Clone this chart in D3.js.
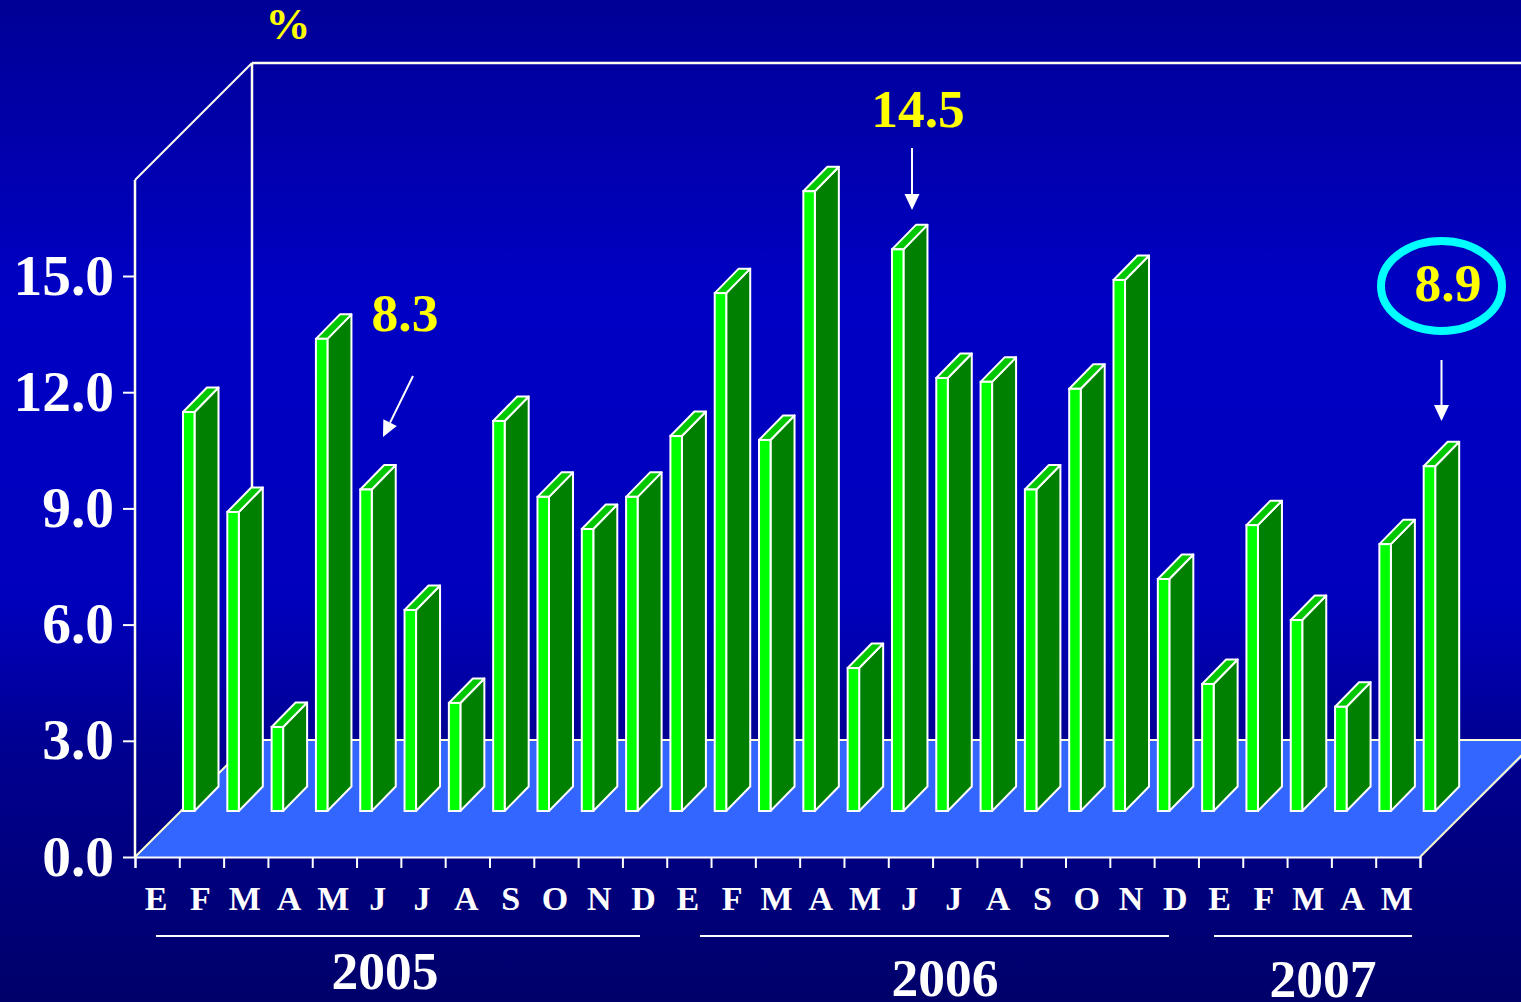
<!DOCTYPE html>
<html><head><meta charset="utf-8">
<script src="https://cdn.jsdelivr.net/npm/d3@7"></script>
<style>html,body{margin:0;padding:0;background:#000060;overflow:hidden}svg{display:block}
text{font-family:"Liberation Serif",serif;font-weight:bold}</style></head>
<body><svg id="c" width="1521" height="1002"></svg>
<script>
const months = ["E","F","M","A","M","J","J","A","S","O","N","D","E","F","M","A","M","J","J","A","S","O","N","D","E","F","M","A","M"];
const values = [10.3,7.72,2.17,12.19,8.3,5.19,2.79,10.07,8.11,7.28,8.11,9.68,13.37,9.58,16.0,3.69,14.5,11.18,11.08,8.3,10.9,13.71,5.99,3.28,7.38,4.93,2.69,6.89,8.9];
const yTicks = [0,3,6,9,12,15];
const years = [
  {label:"2005",x1:156,x2:640,cx:385,base:989},
  {label:"2006",x1:700,x2:1169,cx:945,base:996},
  {label:"2007",x1:1214,x2:1412,cx:1323,base:997}];
const callouts = [
  {label:"8.3",x:405,y:331,from:[413,376],to:[383,437]},
  {label:"14.5",x:918,y:127,from:[912,148],to:[912,210]},
  {label:"8.9",x:1448,y:301,from:[1441.5,360],to:[1441.5,421]}];
const bgStops = [[0,"#000096"],[0.3,"#0000c4"],[0.6,"#0000bc"],[0.75,"#000090"],[1,"#00006a"]];

const svg = d3.select("#c");
const defs = svg.append("defs");
const g = defs.append("linearGradient").attr("id","bg").attr("x1",0).attr("x2",0).attr("y1",0).attr("y2",1);
bgStops.forEach(s=>g.append("stop").attr("offset",s[0]).attr("stop-color",s[1]));
svg.append("rect").attr("width",1521).attr("height",1002).attr("fill","url(#bg)");

const x0=135,x1=1420,y0=857;
const y = d3.scaleLinear().domain([0,15]).range([y0,276]);
const x = d3.scaleBand().domain(d3.range(months.length)).range([x0,x1]);
const xEdge = d3.scaleLinear().domain([0,months.length]).range([x0,x1]);
const wallD=117, yMaxV=17.48, wallTop=y(yMaxV);
const line=(a,b,c="#fff",w=2)=>svg.append("line").attr("x1",a[0]).attr("y1",a[1]).attr("x2",b[0]).attr("y2",b[1]).attr("stroke",c).attr("stroke-width",w);

// floor
svg.append("polygon").attr("fill","#3366ff")
  .attr("points",[[x0,y0],[x0+wallD,y0-wallD],[1540,y0-wallD],[1540,y0-wallD],[x1,y0]].join(" "));
line([x0+wallD,y0-wallD],[1521,y0-wallD],"#ffffe0",2);
line([x0,y0],[x0+wallD,y0-wallD],"#ffffcc",2);
line([x1,y0],[x1+wallD,y0-wallD],"#ffffcc",2);
// walls
line([x0,wallTop],[x0+wallD,wallTop-wallD],"#fffff0",2);
line([x0+wallD,wallTop-wallD],[x0+wallD,y0-wallD],"#fffff0",2.5);
line([x0+wallD,wallTop-wallD],[1521,wallTop-wallD],"#fffff0",2.5);
line([x0,wallTop],[x0,y0],"#fffff0",2.5);

// axes
const ax = svg.append("g").attr("transform",`translate(${x0},0)`)
  .call(d3.axisLeft(y).tickValues(yTicks).tickSize(12).tickPadding(9).tickFormat(d3.format(".1f")));
ax.select(".domain").remove();
ax.selectAll("line").attr("stroke","#fff").attr("stroke-width",2);
ax.selectAll("text").attr("fill","#fff").attr("font-size",57.5).attr("dy",null).attr("y",18);

const bx = svg.append("g").attr("transform",`translate(0,${y0})`)
  .call(d3.axisBottom(xEdge).tickValues(d3.range(months.length+1)).tickSize(11).tickFormat(""));
bx.select(".domain").attr("stroke","#fff").attr("stroke-width",2);
bx.selectAll("line").attr("stroke","#fff").attr("stroke-width",2);
const lx = svg.append("g").attr("transform",`translate(-1,${y0})`)
  .call(d3.axisBottom(x).tickSize(0).tickPadding(0).tickFormat(i=>months[i]));
lx.select(".domain").remove();
lx.selectAll("text").attr("fill","#fff").attr("font-size",34).attr("dy",null).attr("y",53);

// bars
const offs=48, baseY=y0-46, w=11.5, depth=24, rise=24.5;
const bars = svg.append("g").selectAll("g").data(values).join("g")
  .attr("transform",(v,i)=>`translate(${x(i)+offs},0)`);
const barTop = v => baseY-(y0-y(v));
bars.append("polygon").attr("fill","#008000").attr("stroke","#fff").attr("stroke-width",2).attr("stroke-linejoin","round")
  .attr("points",v=>[[w,barTop(v)],[w+depth,barTop(v)-rise],[w+depth,baseY-rise],[w,baseY]].join(" "));
bars.append("polygon").attr("fill","#00c800").attr("stroke","#fff").attr("stroke-width",2).attr("stroke-linejoin","round")
  .attr("points",v=>[[0,barTop(v)],[depth,barTop(v)-rise],[w+depth,barTop(v)-rise],[w,barTop(v)]].join(" "));
bars.append("rect").attr("fill","#00ff00").attr("stroke","#fff").attr("stroke-width",2)
  .attr("y",v=>barTop(v)).attr("width",w).attr("height",v=>baseY-barTop(v));

// years
svg.selectAll(".yl").data(years).join("line").attr("x1",d=>d.x1).attr("x2",d=>d.x2).attr("y1",936).attr("y2",936).attr("stroke","#fff").attr("stroke-width",2);
svg.selectAll(".yt").data(years).join("text").attr("x",d=>d.cx).attr("y",d=>d.base).attr("text-anchor","middle").attr("fill","#fff").attr("font-size",53.5).text(d=>d.label);

// callouts
svg.append("text").attr("x",288).attr("y",39).attr("text-anchor","middle").attr("fill","#ffff00").attr("font-size",45).text("%");
svg.append("ellipse").attr("cx",1441.5).attr("cy",286).attr("rx",60.5).attr("ry",45).attr("fill","none").attr("stroke","#00ffff").attr("stroke-width",8);
svg.selectAll(".ct").data(callouts).join("text").attr("x",d=>d.x).attr("y",d=>d.y).attr("text-anchor","middle").attr("fill","#ffff00").attr("font-size",53.5).text(d=>d.label);
callouts.forEach(c=>{
  const [a,b]=[c.from,c.to], dx=b[0]-a[0], dy=b[1]-a[1], L=Math.hypot(dx,dy), ux=dx/L, uy=dy/L, h=16, s=7.5;
  const bxx=b[0]-ux*h, byy=b[1]-uy*h;
  line(a,[bxx,byy],"#fff",2);
  svg.append("polygon").attr("fill","#fff").attr("points",[b,[bxx-uy*s,byy+ux*s],[bxx+uy*s,byy-ux*s]].join(" "));
});
</script></body></html>
